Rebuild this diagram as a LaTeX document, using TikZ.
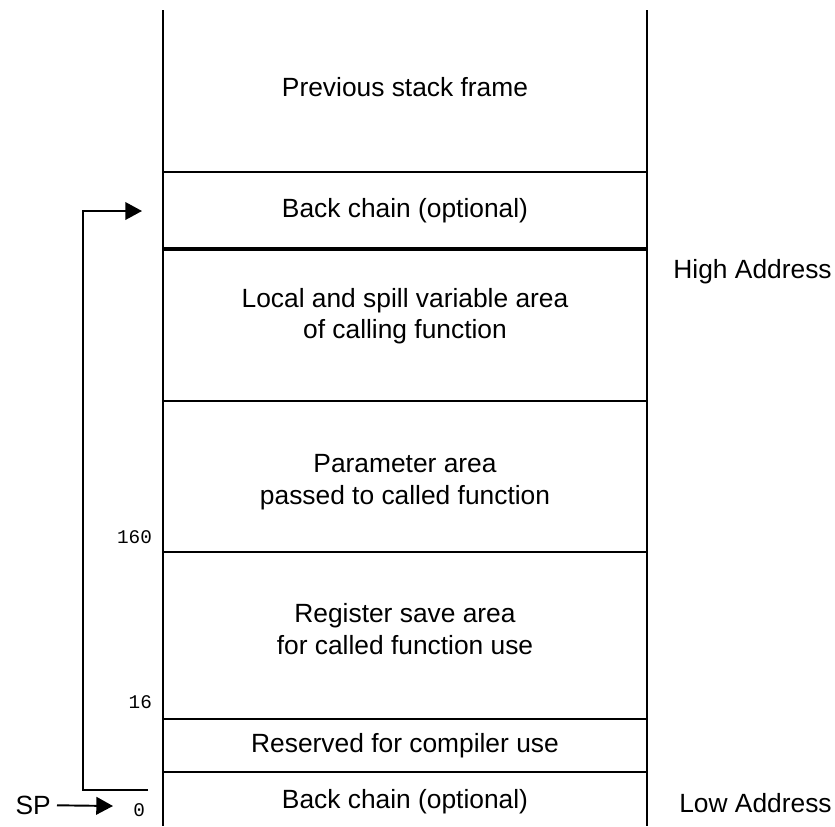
\documentclass[tikz,border=0pt]{standalone}
\usepackage{fontspec}
\setmainfont{Liberation Sans}
\setmonofont{Liberation Mono}
\usetikzlibrary{arrows.meta}

\begin{document}
\begin{tikzpicture}[x=0.02cm, y=-0.02cm,
  font=\fontsize{15}{18}\selectfont,
  frame/.style={line width=1.1pt},
  offs/.style={font=\fontsize{11}{13}\selectfont\ttfamily, anchor=east, inner sep=1pt},
  ptr/.style={line width=1.1pt, -{Triangle[length=9.5pt,width=10pt]}}]
\useasboundingbox (0,0) rectangle (835,826);

% Frame
\draw[frame] (163,10) -- (163,826);
\draw[frame] (647,10) -- (647,826);
\foreach \y in {172,401,552,719,772}
  \draw[frame] (163,\y) -- (647,\y);
\draw[line width=2.3pt] (163,249) -- (647,249);

% Areas
\node (prev) at (405,87) {Previous stack frame};
\node (bc1) at (405,211) {Back chain (optional)};
\node[align=center] (local) at (405,316) {Local and spill variable area\\of calling function};
\node[align=center] (param) at (405,482) {Parameter area\\passed to called function};
\node[align=center] (regs) at (405,629) {Register save area\\for called function use};
\node (resv) at (405,746) {Reserved for compiler use};
\node (bc0) at (405,802) {Back chain (optional)};

% Offsets
\node[offs] (o160) at (154,537) {160};
\node[offs] (o16) at (154,702) {16};
\node[offs] (o0) at (147,810) {0};

% Addresses
\node[anchor=east, inner sep=0pt] (high) at (832,272) {High Address};
\node[anchor=east, inner sep=0pt] (low) at (832,803) {Low Address};

% Back chain pointer
\coordinate (bcfrom) at (148,790);
\coordinate (bcto) at (142,211);
\draw[ptr] (bcfrom) -- ++(-65,0) |- (bcto);

% SP
\node[anchor=east] (sp) at (57,805) {SP};
\coordinate (sptip) at (113,806);
\draw[ptr] (sp) -- (sptip);

\end{tikzpicture}
\end{document}
